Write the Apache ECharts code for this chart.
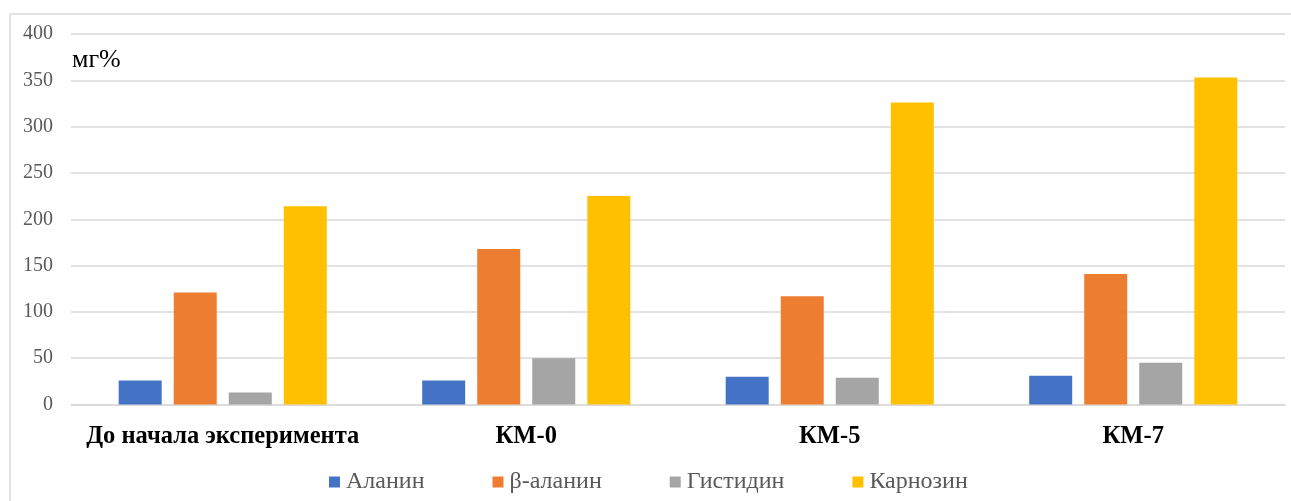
<!DOCTYPE html>
<html>
<head>
<meta charset="utf-8">
<script src="https://cdn.jsdelivr.net/npm/echarts@6/dist/echarts.min.js"></script>
<style>
html,body{margin:0;padding:0;background:#fff;}
#c{width:1291px;height:501px;}
</style>
</head>
<body>
<div id="c"></div>
<script>
const categories = ['До начала эксперимента', 'КМ-0', 'КМ-5', 'КМ-7'];
const seriesNames = ['Аланин', 'β-аланин', 'Гистидин', 'Карнозин'];
const alanine = [26, 26, 30, 31];
const betaAlanine = [121, 168, 117, 141];
const histidine = [13, 50, 29, 45];
const carnosine = [214, 225, 326, 353];
const unitLabel = 'мг%';
const colors = ['#4472C4', '#ED7D31', '#A5A5A5', '#FFC000'];
const values = [alanine, betaAlanine, histidine, carnosine];

const serif = '"Liberation Serif", "Times New Roman", serif';
const chart = echarts.init(document.getElementById('c'), null, {renderer: 'canvas'});
chart.setOption({
  animation: false,
  backgroundColor: '#fff',
  color: colors,
  grid: {left: 71, right: 6, top: 34, bottom: 96.5, containLabel: false},
  legend: {
    data: seriesNames,
    left: 329,
    top: 470,
    padding: 0,
    icon: 'rect',
    itemWidth: 11,
    itemHeight: 11,
    itemGap: 68,
    textStyle: {fontFamily: serif, fontSize: 24, color: '#595959', padding: [0, 0, 0, 1]}
  },
  xAxis: {
    type: 'category',
    data: categories,
    axisLine: {show: true, lineStyle: {color: '#d9d9d9', width: 1.5}},
    axisTick: {show: false},
    axisLabel: {fontFamily: serif, fontSize: 24.5, fontWeight: 'bold', color: '#000', margin: 20, interval: 0}
  },
  yAxis: {
    type: 'value',
    min: 0, max: 400, interval: 50,
    axisLine: {show: false},
    axisTick: {show: false},
    splitLine: {lineStyle: {color: '#d9d9d9', width: 1.5}},
    axisLabel: {fontFamily: serif, fontSize: 20, color: '#595959', margin: 18}
  },
  series: seriesNames.map((n, i) => ({
    name: n,
    type: 'bar',
    data: values[i],
    barWidth: 43,
    barGap: '28%',
    itemStyle: {color: colors[i]}
  })),
  graphic: [
    {type: 'polyline', shape: {points: [[10, 501], [10, 14], [1291, 14]]},
     style: {fill: 'none', stroke: '#d9d9d9', lineWidth: 1.5}, silent: true, z: -1},
    {type: 'text', left: 72, top: 47,
     style: {text: unitLabel, fontFamily: serif, fontSize: 26, fill: '#000'}}
  ]
});
</script>
</body>
</html>
